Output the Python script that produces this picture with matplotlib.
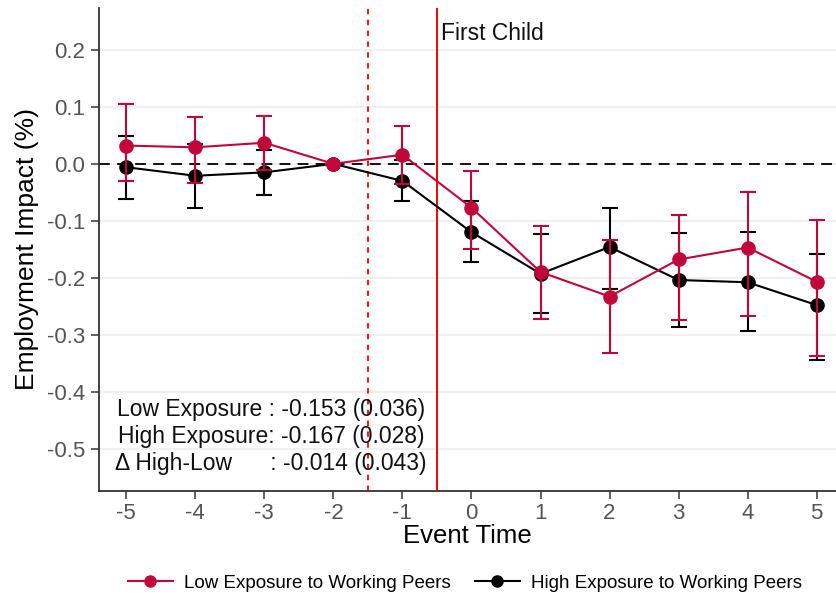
import matplotlib
import matplotlib.pyplot as plt
import numpy as np
from matplotlib.lines import Line2D

matplotlib.use("Agg")

RED = "#C1073A"
BLACK = "#000000"
TICK_GRAY = "#555555"
GRID = "#EDEDED"

event_time = [-5, -4, -3, -2, -1, 0, 1, 2, 3, 4, 5]

# low exposure to working peers
low_coef = [0.032, 0.029, 0.037, 0.0, 0.016, -0.077, -0.190, -0.233, -0.168, -0.147, -0.207]
low_hi = [0.105, 0.082, 0.084, 0.0, 0.067, -0.012, -0.109, -0.134, -0.089, -0.049, -0.098]
low_lo = [-0.030, -0.033, -0.010, 0.0, -0.035, -0.149, -0.272, -0.332, -0.274, -0.267, -0.338]

# high exposure to working peers
high_coef = [-0.006, -0.021, -0.015, 0.0, -0.030, -0.120, -0.193, -0.146, -0.204, -0.208, -0.248]
high_hi = [0.048, 0.035, 0.025, 0.0, 0.006, -0.066, -0.123, -0.077, -0.121, -0.120, -0.158]
high_lo = [-0.061, -0.077, -0.055, 0.0, -0.066, -0.172, -0.262, -0.219, -0.286, -0.293, -0.345]

y_ticks = [0.2, 0.1, 0.0, -0.1, -0.2, -0.3, -0.4, -0.5]

summary_lines = [
    "Low Exposure : -0.153 (0.036)",
    "High Exposure: -0.167 (0.028)",
    "\u0394 High-Low      : -0.014 (0.043)",
]

plt.rcParams["font.family"] = ["Liberation Sans", "DejaVu Sans"]

fig = plt.figure(figsize=(8.36, 5.97), dpi=100)
ax = fig.add_axes([0.118, 0.178, 0.882, 0.809])

ax.set_xlim(-5.4, 5.28)
ax.set_ylim(-0.574, 0.274)

for v in y_ticks:
    ax.axhline(v, color=GRID, linewidth=1.2, zorder=0)

ax.axhline(0, color=BLACK, linestyle=(0, (6, 4)), linewidth=1.3, zorder=1)
ax.axvline(-1.5, color="#FF0000", linestyle=(0, (3, 3)), linewidth=1.3, zorder=1)
ax.axvline(-0.5, color="#FF0000", linewidth=1.4, zorder=1)
ax.text(-0.44, 0.228, "First Child", fontsize=16.5, ha="left", va="center", color="#111111")


def draw_series(coef, lo, hi, color, z):
    x = np.array(event_time)
    c = np.array(coef)
    yerr = np.vstack([c - np.array(lo), np.array(hi) - c])
    ax.errorbar(x, c, yerr=yerr, fmt="none", ecolor=color, elinewidth=1.5,
                capsize=6, capthick=1.5, zorder=z)
    ax.plot(x, c, color=color, linewidth=1.5, marker="o", markersize=9.5, zorder=z + 0.5)


draw_series(high_coef, high_lo, high_hi, BLACK, 3)
draw_series(low_coef, low_lo, low_hi, RED, 4)

ax.text(-2.9, -0.479, "\n".join(summary_lines), fontsize=16.5, ha="center", va="center",
        linespacing=1.22, color="#111111", zorder=6)

ax.set_xticks(event_time)
ax.set_xticklabels([str(t) for t in event_time])
ax.set_yticks(y_ticks)
ax.set_yticklabels([f"{v:.1f}" for v in y_ticks])
ax.tick_params(axis="both", colors=TICK_GRAY, labelsize=16, length=6, width=1.3)
ax.tick_params(axis="x", pad=3)

ax.set_xlabel("Event Time", fontsize=18.5, labelpad=0)
ax.set_ylabel("Employment Impact (%)", fontsize=19, labelpad=6)

for side in ["top", "right"]:
    ax.spines[side].set_visible(False)
for side in ["left", "bottom"]:
    ax.spines[side].set_color("#333333")
    ax.spines[side].set_linewidth(1.3)

handles = [
    Line2D([0], [0], color=RED, marker="o", markersize=8, linewidth=1.5),
    Line2D([0], [0], color=BLACK, marker="o", markersize=8, linewidth=1.5),
]
fig.legend(handles, ["Low Exposure to Working Peers", "High Exposure to Working Peers"],
           loc="center", bbox_to_anchor=(0.556, 0.023), ncol=2, frameon=False,
           fontsize=13.5, handlelength=2.4, columnspacing=1.3, handletextpad=0.6)

fig.savefig("out.png", dpi=100, facecolor="white")
